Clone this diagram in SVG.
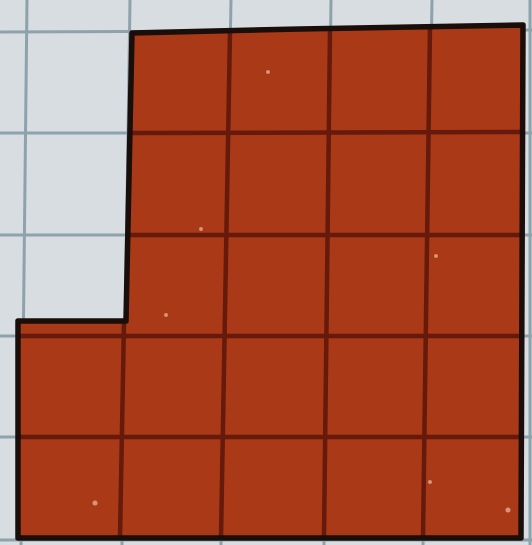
<svg xmlns="http://www.w3.org/2000/svg" width="532" height="545" viewBox="0 0 532 545">
<style>
.paper{fill:#d8dde1}
.grid{stroke:#8ea2ac;stroke-width:3;fill:none}
.fill{fill:#aa3a17}
.inner{stroke:#651a0b;stroke-width:4.5;fill:none;stroke-linecap:round}
.outline{fill:none;stroke:#1a0e0a;stroke-width:5.5;stroke-linejoin:round}
.speck{fill:#e2ab90;opacity:0.8}
</style>
<rect class="paper" x="0" y="0" width="532" height="545"/>
<g id="paper-grid">
<line class="grid" x1="27" y1="0" x2="21" y2="545"/>
<line class="grid" x1="130" y1="0" x2="122" y2="545"/>
<line class="grid" x1="231" y1="0" x2="221" y2="545"/>
<line class="grid" x1="331" y1="0" x2="324" y2="545"/>
<line class="grid" x1="432" y1="0" x2="423" y2="545"/>
<line class="grid" x1="530" y1="0" x2="530" y2="545"/>
<line class="grid" x1="0" y1="32" x2="532" y2="30"/>
<line class="grid" x1="0" y1="133" x2="532" y2="133"/>
<line class="grid" x1="0" y1="235" x2="532" y2="235"/>
<line class="grid" x1="0" y1="336" x2="532" y2="336"/>
<line class="grid" x1="0" y1="437" x2="532" y2="437"/>
<line class="grid" x1="0" y1="540" x2="532" y2="540"/>
</g>
<g id="shaded-region">
<path class="fill" d="M132,33 L300,29 L523,25 L521,538 L18,538 L18,321 L126,321 Z"/>
<g id="inner-lines">
<line class="inner" x1="230" y1="31" x2="221" y2="537"/>
<line class="inner" x1="330" y1="29" x2="324" y2="537"/>
<line class="inner" x1="430" y1="27" x2="423" y2="537"/>
<line class="inner" x1="124" y1="322" x2="120" y2="537"/>
<line class="inner" x1="131" y1="133" x2="521" y2="132"/>
<line class="inner" x1="129" y1="235" x2="521" y2="235"/>
<line class="inner" x1="20" y1="336" x2="521" y2="336"/>
<line class="inner" x1="20" y1="437" x2="521" y2="437"/>
</g>
<path class="outline" d="M132,33 L300,29 L523,25 L521,538 L18,538 L18,321 L126,321 Z"/>
<circle class="speck" cx="268" cy="72" r="2"/>
<circle class="speck" cx="201" cy="229" r="2"/>
<circle class="speck" cx="436" cy="256" r="2"/>
<circle class="speck" cx="166" cy="315" r="2"/>
<circle class="speck" cx="95" cy="503" r="2.5"/>
<circle class="speck" cx="430" cy="482" r="2"/>
<circle class="speck" cx="508" cy="510" r="2.5"/>
</g>
</svg>
